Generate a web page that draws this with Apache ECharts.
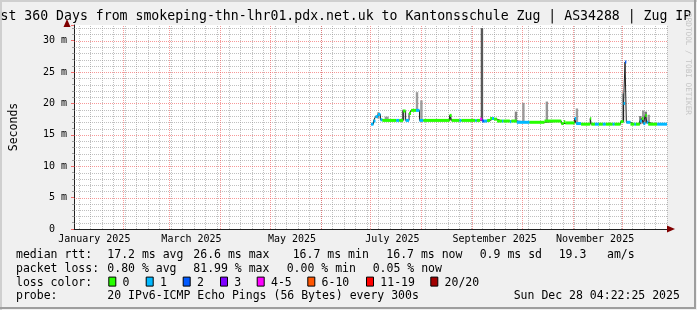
<!DOCTYPE html>
<html>
<head>
<meta charset="utf-8">
<script src="https://cdn.jsdelivr.net/npm/echarts@6/dist/echarts.min.js"></script>
<style>
html,body{margin:0;padding:0;background:#f0f0f0;}
#chart{width:697px;height:310px;}
</style>
</head>
<body>
<div id="chart"></div>
<script>
// ---------------- data ----------------
const titleText = 'st 360 Days from smokeping-thn-lhr01.pdx.net.uk to Kantonsschule Zug | AS34288 | Zug IP';
const yAxisName = 'Seconds';
const watermark = 'RRDTOOL / TOBI OETIKER';
const rangeStart = '2025-01-02 04:22';
const rangeEnd = '2025-12-28 04:22';
const firstSunday = '2025-01-05';
const monthStarts = ['2025-02-01','2025-03-01','2025-04-01','2025-05-01','2025-06-01','2025-07-01','2025-08-01','2025-09-01','2025-10-01','2025-11-01','2025-12-01'];
const monthLabelDates = ['2025-01-14 12:00','2025-03-14 12:00','2025-05-14 12:00','2025-07-14 12:00','2025-09-14 12:00','2025-11-14 12:00'];
const monthLabels = ['January 2025','March 2025','May 2025','July 2025','September 2025','November 2025'];

// median rtt (ms), each value holds until the next time; loss = pings lost of 20
const medianTimes = ['2025-07-01 12:00','2025-07-03 00:00','2025-07-04 05:00','2025-07-05 17:00','2025-07-07 05:00','2025-07-08 10:00','2025-07-16 19:00','2025-07-18 14:00','2025-07-21 00:00','2025-07-22 12:00','2025-07-24 14:00','2025-07-25 19:00','2025-07-28 19:00','2025-07-30 22:00','2025-08-02 07:00','2025-08-18 05:00','2025-08-19 10:00','2025-08-24 05:00','2025-08-25 10:00','2025-09-02 19:00','2025-09-03 17:00','2025-09-05 19:00','2025-09-07 00:00','2025-09-08 05:00','2025-09-10 00:00','2025-09-11 19:00','2025-09-13 00:00','2025-09-14 05:00','2025-09-16 00:00','2025-09-19 00:00','2025-09-19 22:00','2025-09-23 19:00','2025-09-24 17:00','2025-09-28 00:00','2025-10-05 19:00','2025-10-14 19:00','2025-10-25 00:00','2025-10-26 12:00','2025-10-27 10:00','2025-11-02 02:00','2025-11-03 00:00','2025-11-06 00:00','2025-11-11 14:00','2025-11-12 05:00','2025-11-14 10:00','2025-11-16 19:00','2025-11-19 05:00','2025-11-21 00:00','2025-11-25 05:00','2025-11-26 10:00','2025-11-30 00:00','2025-12-01 19:00','2025-12-02 17:00','2025-12-03 12:00','2025-12-06 00:00','2025-12-08 10:00','2025-12-09 07:00','2025-12-11 17:00','2025-12-12 22:00','2025-12-13 19:00','2025-12-15 00:00','2025-12-15 22:00','2025-12-16 19:00','2025-12-22 05:00'];
const medianValues = [16.7,17.2,17.9,18.25,17.4,17.3,17.3,17.3,18.8,17.3,18.4,18.9,18.9,17.3,17.3,18.1,17.3,17.3,17.3,17.3,17.3,17.5,17.2,17.2,17.3,17.6,17.6,17.5,17.2,17.2,17.2,17.1,17.2,17.0,17.0,17.2,16.8,17.1,16.9,17.6,16.8,16.7,17.6,16.7,16.7,16.7,16.7,16.7,16.7,16.7,17.1,20.0,26.6,17.0,16.7,16.7,16.7,17.2,17.6,16.8,18.1,17.0,16.7,16.7];
const medianLoss = [1,1,1,1,1,0,1,0,0,1,0,0,1,1,0,0,0,1,0,1,0,5,2,1,0,0,1,0,0,1,0,1,0,1,0,0,0,0,0,1,1,0,0,0,1,0,1,0,1,0,0,1,2,1,0,1,0,1,0,1,0,1,0,1];

// smoke: spread of the pings (ms) and its density (0..1)
const smokeTimes = ['2025-07-06 00:00','2025-07-10 12:00','2025-07-11 12:00','2025-07-21 00:00','2025-07-29 10:00','2025-08-01 02:00','2025-08-18 16:00','2025-09-06 20:00','2025-09-27 12:00','2025-10-02 00:00','2025-10-16 06:00','2025-11-03 12:00','2025-12-01 12:00','2025-12-12 00:00','2025-12-13 18:00','2025-12-15 07:00','2025-12-17 02:00'];
const smokeLow  = [17.6,17.4,17.4,17.3,18.9,17.3,17.3,17.3,17.0,17.0,17.2,16.8,17.0,16.7,16.8,16.8,16.7];
const smokeHigh = [18.6,17.9,17.9,19.0,21.8,20.5,18.1,32.0,18.7,20.1,20.3,19.2,21.6,18.0,18.9,18.7,18.2];
const smokeDensity = [0.3,0.3,0.3,0.5,0.3,0.3,0.6,0.75,0.45,0.3,0.35,0.3,0.35,0.5,0.3,0.55,0.3];

const lossNames = ['0','1','2','3','4-5','6-10','11-19','20/20'];
const lossColors = ['#26ff00','#00b8ff','#0059ff','#7e00ff','#ff00ff','#ff5500','#ff0000','#a10000'];

const statLabels = ['median rtt:','packet loss:','loss color:','probe:'];
const rttStats = ['17.2 ms avg','26.6 ms max','16.7 ms min','16.7 ms now','0.9 ms sd','19.3','am/s'];
const lossStats = ['0.80 % avg','81.99 % max','0.00 % min','0.05 % now'];
const probeText = '20 IPv6-ICMP Echo Pings (56 Bytes) every 300s';
const stampText = 'Sun Dec 28 04:22:25 2025';

// ---------------- helpers ----------------
function T(s){
  const parts = s.split(' ');
  const d = parts[0].split('-').map(Number);
  const h = (parts[1] || '00:00').split(':').map(Number);
  return Date.UTC(d[0], d[1]-1, d[2], h[0], h[1]);
}
function lossIndex(n){
  if (n <= 3) return n;
  if (n <= 5) return 4;
  if (n <= 10) return 5;
  if (n <= 19) return 6;
  return 7;
}
const DAY = 86400000;
const xMin = T(rangeStart), xMax = T(rangeEnd);
const yMax = 32.5, yStep = 5;
const mono = 'DejaVu Sans Mono';

// grid line values (kind 0 = minor, 1 = major)
const vGrid = [];
for (let t = T(firstSunday); t < xMax; t += 7*DAY) vGrid.push([t, 0, 0]);
monthStarts.forEach(s => vGrid.push([T(s), 0, 1]));
const hGrid = [];
for (let v = 1; v < yMax; v++) hGrid.push([xMin, v, v % yStep ? 0 : 1]);
const gridColors = ['rgba(140,140,140,0.55)', 'rgba(240,70,70,0.55)'];

const labelTs = monthLabelDates.map(T);

const medianSeg = medianTimes.map((t,i) => [T(t), i+1 < medianTimes.length ? T(medianTimes[i+1]) : xMax, medianValues[i], medianLoss[i]]);
const medianLine = medianTimes.map((t,i) => [T(t), medianValues[i]]);
medianLine.push([xMax, medianValues[medianValues.length-1]]);
const smokeData = smokeTimes.map((t,i) => [T(t), smokeLow[i], smokeHigh[i], smokeDensity[i]]);

// ---------------- legend graphics ----------------
const rowY = [255, 268.9, 282.6, 296.5];
const txt = (x, y, s, size) => ({type:'text', x:x, y:y, silent:true,
  style:{text:s, fill:'#000', font: size + 'px "' + mono + '"', textAlign:'left', textVerticalAlign:'middle'}});
const graphics = [];
graphics.push({type:'rect', shape:{x:0,y:0,width:697,height:2}, style:{fill:'#cfcfcf'}, silent:true});
graphics.push({type:'rect', shape:{x:0,y:0,width:2,height:310}, style:{fill:'#cfcfcf'}, silent:true});
graphics.push({type:'rect', shape:{x:0,y:307,width:696,height:2}, style:{fill:'#9e9e9e'}, silent:true});
graphics.push({type:'rect', shape:{x:694,y:0,width:2,height:309}, style:{fill:'#9e9e9e'}, silent:true});
graphics.push(txt(0.5, 17, titleText, 13.2));
graphics.push({type:'text', x:688, y:64, rotation:-Math.PI/2, silent:true,
  style:{text:watermark, fill:'#c4c4c4', font:'7.7px "' + mono + '"', textAlign:'center', textVerticalAlign:'middle'}});
graphics.push({type:'polygon', shape:{points:[[67,19],[63.5,27],[70.5,27]]}, style:{fill:'#800000'}, silent:true, z:10});
graphics.push({type:'polygon', shape:{points:[[675,229],[667,225.5],[667,232.5]]}, style:{fill:'#800000'}, silent:true, z:10});
statLabels.forEach((s,i) => graphics.push(txt(16, rowY[i], s, 11.5)));
const rttX = [107.3,193.3,292.7,386.3,479.7,558.7,607];
rttStats.forEach((s,i) => graphics.push(txt(rttX[i], rowY[0], s, 11.5)));
const lossX = [107.3,193.3,286.7,372.7];
lossStats.forEach((s,i) => graphics.push(txt(lossX[i], rowY[1], s, 11.5)));
const boxX = [108.3,145.7,182.7,220,256.7,307.3,366,430.3];
lossNames.forEach((s,i) => {
  graphics.push({type:'rect', shape:{x:boxX[i]+0.5, y:rowY[2]-5.5, width:7, height:9}, style:{fill:lossColors[i], stroke:'#000', lineWidth:1}, silent:true});
  graphics.push(txt(boxX[i]+14.3, rowY[2], s, 11.5));
});
graphics.push(txt(107.3, rowY[3], probeText, 11.5));
graphics.push(txt(513.7, rowY[3], stampText, 11.5));

// ---------------- chart ----------------
const chart = echarts.init(document.getElementById('chart'), null, {renderer:'canvas'});
chart.setOption({
  animation:false,
  backgroundColor:'#f0f0f0',
  grid:{left:67, right:30, top:25, bottom:81, show:true, backgroundColor:'#ffffff', borderWidth:0},
  xAxis:{
    type:'value', min:xMin, max:xMax, scale:true,
    splitLine:{show:false}, axisTick:{show:false},
    axisLine:{show:true, onZero:false, lineStyle:{color:'#202020', width:1}},
    axisLabel:{customValues:labelTs, hideOverlap:false,
      formatter:(v) => { const k = labelTs.indexOf(+v); return k >= 0 ? monthLabels[k] : ''; },
      fontFamily:mono, fontSize:10, color:'#000', margin:5}
  },
  yAxis:{
    type:'value', min:0, max:yMax, interval:yStep,
    name:yAxisName, nameLocation:'middle', nameGap:54,
    nameTextStyle:{fontFamily:mono, fontSize:11.5, color:'#000'},
    axisLine:{show:true, onZero:false, lineStyle:{color:'#202020', width:1}},
    axisTick:{show:true, length:3, lineStyle:{color:'rgba(240,70,70,0.8)'}},
    minorTick:{show:true, splitNumber:5, length:2, lineStyle:{color:'#a0a0a0'}},
    splitLine:{show:false}, minorSplitLine:{show:false},
    axisLabel:{showMaxLabel:false, formatter:v => v === 0 ? '0\u00a0\u00a0' : v + ' m',
      fontFamily:mono, fontSize:10, color:'#000', margin:7}
  },
  series:[
    {type:'custom', z:1, silent:true, clip:false, data:vGrid, encode:{x:0, y:1},
     renderItem:(params, api) => {
       const b = api.coord([api.value(0), 0]);
       const t = api.coord([api.value(0), yMax]);
       const x = Math.round(b[0]) + 0.5;
       return {type:'line', shape:{x1:x, y1:Math.round(b[1]), x2:x, y2:Math.round(t[1])},
               style:{stroke:gridColors[api.value(2)], lineWidth:1, lineDash:[1,1]}, z2: api.value(2)};
     }},
    {type:'custom', z:1, silent:true, clip:false, data:hGrid, encode:{x:0, y:1},
     renderItem:(params, api) => {
       const l = api.coord([xMin, api.value(1)]);
       const r = api.coord([xMax, api.value(1)]);
       const y = Math.round(l[1]) + 0.5;
       return {type:'line', shape:{x1:Math.round(l[0]), y1:y, x2:Math.round(r[0]), y2:y},
               style:{stroke:gridColors[api.value(2)], lineWidth:1, lineDash:[1,1]}, z2: api.value(2)};
     }},
    {type:'custom', z:2, silent:true, clip:true, data:smokeData, encode:{x:0, y:[1,2]},
     renderItem:(params, api) => {
       const lo = api.coord([api.value(0), api.value(1)]);
       const hi = api.coord([api.value(0), api.value(2)]);
       const g = Math.round(200 - 150*api.value(3));
       return {type:'rect', shape:{x:lo[0]-1.2, y:hi[1], width:2.4, height:lo[1]-hi[1]},
               style:{fill:'rgb(' + g + ',' + g + ',' + g + ')'}};
     }},
    {type:'line', z:3, silent:true, data:medianLine, step:'end', symbol:'none',
     lineStyle:{color:'#202020', width:1}},
    {type:'custom', z:4, silent:true, clip:true, data:medianSeg, encode:{x:[0,1], y:2},
     renderItem:(params, api) => {
       const a = api.coord([api.value(0), api.value(2)]);
       const b = api.coord([api.value(1), api.value(2)]);
       return {type:'rect', shape:{x:a[0], y:a[1]-1.5, width:b[0]-a[0], height:3},
               style:{fill:lossColors[lossIndex(api.value(3))]}};
     }}
  ],
  graphic:graphics
});
</script>
</body>
</html>
